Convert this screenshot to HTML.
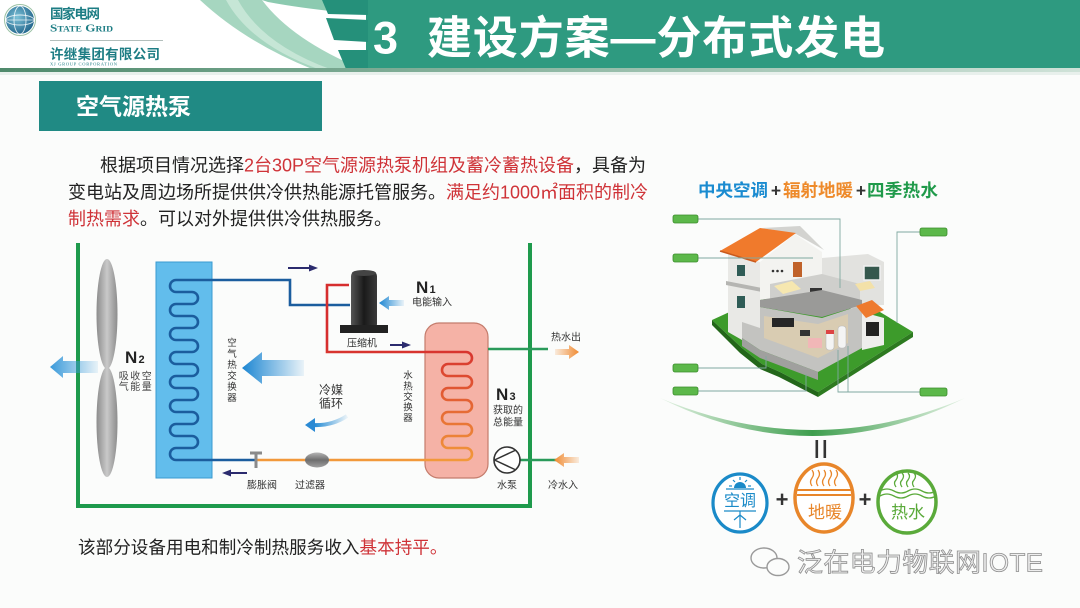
<!DOCTYPE html>
<html><head><meta charset="utf-8">
<style>
html,body{margin:0;padding:0;width:1080px;height:608px;overflow:hidden;background:#fbfcfb;}
svg{display:block;}
text{font-family:"Liberation Sans","Noto Sans CJK SC",sans-serif;}
</style></head><body>
<svg width="1080" height="608" viewBox="0 0 1080 608" xmlns="http://www.w3.org/2000/svg">
<defs>
  <linearGradient id="gBlueL" x1="0" y1="0" x2="1" y2="0">
    <stop offset="0" stop-color="#1c86d2" stop-opacity="1"/>
    <stop offset="1" stop-color="#1c86d2" stop-opacity="0.08"/>
  </linearGradient>
  <linearGradient id="gBlueL2" x1="0" y1="0" x2="1" y2="0">
    <stop offset="0" stop-color="#3a9ada" stop-opacity="1"/>
    <stop offset="1" stop-color="#3a9ada" stop-opacity="0.1"/>
  </linearGradient>
  <linearGradient id="gOrgR" x1="0" y1="0" x2="1" y2="0">
    <stop offset="0" stop-color="#f08a30" stop-opacity="0.15"/>
    <stop offset="1" stop-color="#f08a30" stop-opacity="1"/>
  </linearGradient>
  <linearGradient id="gOrgL" x1="0" y1="0" x2="1" y2="0">
    <stop offset="0" stop-color="#f08a30" stop-opacity="1"/>
    <stop offset="1" stop-color="#f08a30" stop-opacity="0.15"/>
  </linearGradient>
  <linearGradient id="gCoil" gradientUnits="userSpaceOnUse" x1="0" y1="345" x2="0" y2="462">
    <stop offset="0" stop-color="#d62e2e"/>
    <stop offset="1" stop-color="#f29a3a"/>
  </linearGradient>
  <linearGradient id="gComp" x1="0" y1="0" x2="1" y2="0">
    <stop offset="0" stop-color="#555"/>
    <stop offset="0.5" stop-color="#1a1a1a"/>
    <stop offset="1" stop-color="#3a3a3a"/>
  </linearGradient>
  <linearGradient id="gFan" x1="0" y1="0" x2="1" y2="0">
    <stop offset="0" stop-color="#8c8c8c"/>
    <stop offset="0.5" stop-color="#c9c9c9"/>
    <stop offset="1" stop-color="#8c8c8c"/>
  </linearGradient>
  <linearGradient id="gArc" x1="0" y1="0" x2="1" y2="0">
    <stop offset="0" stop-color="#e4f2e4"/>
    <stop offset="0.5" stop-color="#3e9e4e"/>
    <stop offset="1" stop-color="#e4f2e4"/>
  </linearGradient>
  <linearGradient id="gHdrLine" x1="0" y1="0" x2="1" y2="0">
    <stop offset="0" stop-color="#4f8a6c"/>
    <stop offset="0.5" stop-color="#8fb8a4"/>
    <stop offset="1" stop-color="#cfe2d8"/>
  </linearGradient>
  <linearGradient id="gFilter" x1="0" y1="0" x2="0" y2="1">
    <stop offset="0" stop-color="#b5b5b5"/>
    <stop offset="0.5" stop-color="#6e6e6e"/>
    <stop offset="1" stop-color="#a0a0a0"/>
  </linearGradient>
  <radialGradient id="gGlobe" cx="0.4" cy="0.4" r="0.7">
    <stop offset="0" stop-color="#7cc2d8"/>
    <stop offset="1" stop-color="#1b5e86"/>
  </radialGradient>
</defs>

<!-- ===== HEADER ===== -->
<rect x="0" y="0" width="1080" height="70" fill="#ffffff"/>
<path d="M200 0 L262 0 Q292 40 362 69 L312 69 Q245 42 200 0 Z" fill="#a6d6c0"/>
<path d="M262 0 L330 0 L340 12 Q300 8 268 2 Z" fill="#8ccab0"/>
<path d="M238 0 Q262 44 330 69 L318 69 Q250 44 226 0 Z" fill="#c6e6d6"/>
<rect x="366" y="0" width="714" height="69" fill="#2e9a80"/>
<polygon points="322,0 368,0 368,15 328,14" fill="#25907a"/>
<polygon points="326,18 368,20 368,42 334,40" fill="#25907a"/>
<polygon points="338,50 368,50 368,69 346,69" fill="#25907a"/>
<rect x="0" y="68" width="1080" height="4" fill="url(#gHdrLine)"/>
<rect x="0" y="72" width="1080" height="3" fill="#e8f0ec"/>

<!-- logo -->
<circle cx="20" cy="20" r="14" fill="url(#gGlobe)"/>
<ellipse cx="20" cy="20" rx="14" ry="5" fill="none" stroke="#ffffff" stroke-width="0.9" opacity="0.8"/>
<ellipse cx="20" cy="20" rx="6" ry="14" fill="none" stroke="#ffffff" stroke-width="0.9" opacity="0.8"/>
<line x1="6" y1="20" x2="34" y2="20" stroke="#fff" stroke-width="0.8" opacity="0.8"/>
<circle cx="20" cy="20" r="15.5" fill="none" stroke="#5a9a6a" stroke-width="1" opacity="0.6"/>
<text x="50" y="18.5" font-size="13.5" font-weight="bold" fill="#1d7d84" textLength="50">国家电网</text>
<text x="50" y="31.5" font-size="11" font-weight="bold" fill="#1d7d84" style="font-family:'Liberation Serif',serif;font-variant:small-caps" textLength="63" lengthAdjust="spacingAndGlyphs">State Grid</text>
<line x1="50" y1="40.5" x2="163" y2="40.5" stroke="#9aaaa6" stroke-width="0.8"/>
<text x="50" y="59" font-size="13.5" font-weight="bold" fill="#1d7d84" textLength="110">许继集团有限公司</text>
<text x="50" y="65.5" font-size="4.5" fill="#1d7d84" style="font-family:'Liberation Serif',serif" textLength="67">XJ GROUP CORPORATION</text>

<!-- title -->
<text x="373" y="53.5" font-size="45" font-weight="bold" fill="#ffffff">3</text>
<text x="427" y="53.5" font-size="45" font-weight="bold" fill="#ffffff" textLength="458">建设方案—分布式发电</text>

<!-- subtitle box -->
<rect x="39" y="81" width="283" height="50" fill="#208a84"/>
<text x="76" y="114.5" font-size="23" font-weight="bold" fill="#ffffff">空气源热泵</text>

<!-- paragraph -->
<text x="100" y="171.6" font-size="18" fill="#222">根据项目情况选择<tspan fill="#cf3338">2台30P空气源源热泵机组及蓄冷蓄热设备</tspan>，具备为</text>
<text x="68" y="198.6" font-size="18" fill="#222">变电站及周边场所提供供冷供热能源托管服务。<tspan fill="#cf3338">满足约1000㎡面积的制冷</tspan></text>
<text x="68" y="225.2" font-size="18" fill="#222"><tspan fill="#cf3338">制热需求</tspan>。可以对外提供供冷供热服务。</text>

<!-- ===== DIAGRAM ===== -->
<path d="M78 243 V506 H530 V243" fill="none" stroke="#1e9a4c" stroke-width="4"/>

<!-- fan -->
<ellipse cx="107" cy="314" rx="10.5" ry="55" fill="url(#gFan)"/>
<ellipse cx="107" cy="422" rx="10.5" ry="55" fill="url(#gFan)"/>

<!-- outside left arrow -->
<polygon points="50,367 63,356 63,361 98,361 98,373 63,373 63,378" fill="url(#gBlueL2)"/>

<!-- N2 -->
<text x="125" y="363" font-size="17" font-weight="bold" fill="#222">N</text>
<text x="138.5" y="363" font-size="11" font-weight="bold" fill="#222">2</text>
<text x="136" y="379.5" font-size="10" fill="#444" text-anchor="middle" letter-spacing="1.5">吸收空</text>
<text x="136" y="390" font-size="10" fill="#444" text-anchor="middle" letter-spacing="1.5">气能量</text>

<!-- air heat exchanger -->
<rect x="156" y="262" width="56" height="216" fill="#62bdec" stroke="#3a9ad0" stroke-width="1"/>
<path d="M350 305 H290 V280 H176 A6 6 0 0 0 176 292 H192 A6 6 0 0 1 192 304 H176 A6 6 0 0 0 176 316 H192 A6 6 0 0 1 192 328 H176 A6 6 0 0 0 176 340 H192 A6 6 0 0 1 192 352 H176 A6 6 0 0 0 176 364 H192 A6 6 0 0 1 192 376 H176 A6 6 0 0 0 176 388 H192 A6 6 0 0 1 192 400 H176 A6 6 0 0 0 176 412 H192 A6 6 0 0 1 192 424 H176 A6 6 0 0 0 176 436 H192 A6 6 0 0 1 192 448 H176 A6 6 0 0 0 176 460 H256" fill="none" stroke="#1b5d9e" stroke-width="2.6"/>

<g font-size="9.5" fill="#333" text-anchor="middle">
<text x="232" y="346">空</text>
<text x="232" y="357">气</text>
<text x="232" y="368">热</text>
<text x="232" y="379">交</text>
<text x="232" y="390">换</text>
<text x="232" y="401">器</text>
</g>

<!-- big blue arrow -->
<polygon points="242,368 262,352 262,360 304,360 304,376 262,376 262,384" fill="url(#gBlueL)"/>

<!-- small navy arrows -->
<line x1="288" y1="268" x2="311" y2="268" stroke="#2b2b6e" stroke-width="2"/>
<polygon points="318,268 309,264.5 309,271.5" fill="#2b2b6e"/>
<line x1="390" y1="345" x2="404" y2="345" stroke="#2b2b6e" stroke-width="2"/>
<polygon points="411,345 402,341.5 402,348.5" fill="#2b2b6e"/>
<line x1="247" y1="473" x2="230" y2="473" stroke="#2b2b6e" stroke-width="2"/>
<polygon points="222,473 231,469.5 231,476.5" fill="#2b2b6e"/>

<!-- compressor -->
<rect x="351" y="271" width="26" height="58" rx="5" fill="url(#gComp)"/>
<ellipse cx="364" cy="273" rx="12" ry="3" fill="#444"/>
<rect x="340" y="325" width="48" height="8" fill="#222"/>
<text x="362" y="346.5" font-size="10" fill="#333" text-anchor="middle">压缩机</text>

<!-- N1 -->
<text x="416" y="293" font-size="17" font-weight="bold" fill="#222">N</text>
<text x="429.5" y="293" font-size="11" font-weight="bold" fill="#222">1</text>
<text x="432" y="305.5" font-size="10" fill="#333" text-anchor="middle">电能输入</text>
<polygon points="379,303 389,296 389,300 404,300 404,306 389,306 389,310" fill="url(#gBlueL)"/>

<!-- water tank -->
<rect x="425" y="323" width="63" height="155" rx="14" fill="#f5b2a6" stroke="#c47c6c" stroke-width="1.2"/>
<path d="M349 285 H327 V352 H466 A6 6 0 0 1 466 364 H448 A6 6 0 0 0 448 376 H466 A6 6 0 0 1 466 388 H448 A6 6 0 0 0 448 400 H466 A6 6 0 0 1 466 412 H448 A6 6 0 0 0 448 424 H466 A6 6 0 0 1 466 436 H448 A6 6 0 0 0 448 448 H466 A6 6 0 0 1 466 460 H256" fill="none" stroke="url(#gCoil)" stroke-width="2.6"/>

<g font-size="9.5" fill="#333" text-anchor="middle">
<text x="408" y="378.5">水</text>
<text x="408" y="389.5">热</text>
<text x="408" y="400">交</text>
<text x="408" y="410.5">换</text>
<text x="408" y="421">器</text>
</g>

<!-- expansion valve and filter -->
<line x1="256" y1="452" x2="256" y2="468" stroke="#8a8a8a" stroke-width="3"/>
<line x1="250" y1="453" x2="262" y2="453" stroke="#8a8a8a" stroke-width="3"/>
<ellipse cx="317" cy="460" rx="12" ry="7.5" fill="url(#gFilter)"/>
<text x="262" y="488.5" font-size="10" fill="#333" text-anchor="middle">膨胀阀</text>
<text x="310" y="488.5" font-size="10" fill="#333" text-anchor="middle">过滤器</text>

<!-- cold media -->
<text x="331" y="394" font-size="12" fill="#333" text-anchor="middle">冷媒</text>
<text x="331" y="407.5" font-size="12" fill="#333" text-anchor="middle">循环</text>
<path d="M347 416 Q332 426 313 425" fill="none" stroke="url(#gBlueL)" stroke-width="4"/>
<polygon points="305,425 315,418 315,432" fill="#2a8ad4"/>

<!-- hot / cold water pipes -->
<line x1="488" y1="349" x2="548" y2="349" stroke="#2a9a5a" stroke-width="2.5"/>
<line x1="520" y1="460" x2="556" y2="460" stroke="#2a9a5a" stroke-width="2.5"/>
<polygon points="579,352 569,345 569,349 555,349 555,355 569,355 569,359" fill="url(#gOrgR)"/>
<polygon points="554,460 564,453 564,457 579,457 579,463 564,463 564,467" fill="url(#gOrgL)"/>
<text x="566" y="340.5" font-size="10" fill="#333" text-anchor="middle">热水出</text>
<text x="563" y="488.5" font-size="10" fill="#333" text-anchor="middle">冷水入</text>

<!-- pump -->
<circle cx="507" cy="460" r="13" fill="#ffffff" stroke="#333" stroke-width="1.6"/>
<path d="M494.5 460 L516 450 M494.5 460 L516 470" stroke="#333" stroke-width="1.5" fill="none"/>
<text x="507" y="488.5" font-size="10" fill="#333" text-anchor="middle">水泵</text>

<!-- N3 -->
<text x="496" y="400" font-size="17" font-weight="bold" fill="#222">N</text>
<text x="509.5" y="400" font-size="11" font-weight="bold" fill="#222">3</text>
<text x="508" y="413.5" font-size="10" fill="#333" text-anchor="middle">获取的</text>
<text x="508" y="425.5" font-size="10" fill="#333" text-anchor="middle">总能量</text>

<!-- bottom text -->
<text x="78" y="553.5" font-size="17.6" fill="#222">该部分设备用电和制冷制热服务收入<tspan fill="#cf3338">基本持平。</tspan></text>

<!-- ===== RIGHT ILLUSTRATION ===== -->
<text x="698" y="196.5" font-size="17.5" font-weight="bold" fill="#1a8bd0" textLength="70">中央空调</text>
<text x="776" y="196.5" font-size="17.5" font-weight="bold" fill="#333" text-anchor="middle">+</text>
<text x="783" y="196.5" font-size="17.5" font-weight="bold" fill="#ee8a2a" textLength="70">辐射地暖</text>
<text x="861" y="196.5" font-size="17.5" font-weight="bold" fill="#333" text-anchor="middle">+</text>
<text x="867" y="196.5" font-size="17.5" font-weight="bold" fill="#1f9a4a" textLength="71">四季热水</text>

<!-- house -->
<polygon points="712,320 760,298 880,312 913,332 818,392 780,372 762,364 742,348" fill="#3d9b2b"/>
<polygon points="712,320 742,348 762,364 780,372 818,392 818,397 779,377 760,369 740,353 712,325" fill="#23661a"/>
<polygon points="818,392 913,332 913,337 818,397" fill="#2d7a20"/>

<polygon points="742,305 760,307 822,318 862,305 862,348 818,372 760,350 742,338" fill="#c3c3c0"/>
<polygon points="764,316 818,324 848,314 848,343 818,358 764,338" fill="#d9ccb2"/>
<rect x="772" y="318" width="22" height="9" fill="#262626"/>
<rect x="800" y="330" width="10" height="6" fill="#333"/>
<polygon points="742,338 760,350 818,372 818,380 760,358 742,346" fill="#a0a09e"/>

<polygon points="728,254 760,262 760,328 742,322 742,340 728,332" fill="#e9e9e6"/>
<polygon points="726,281 762,288 762,292 726,285" fill="#b5b5b2"/>
<rect x="737" y="265" width="8" height="11" fill="#2f5c56"/>
<rect x="737" y="296" width="8" height="12" fill="#2f5c56"/>

<polygon points="822,258 868,254 884,262 884,305 822,308" fill="#e2e2df"/>
<rect x="864" y="266" width="16" height="14" fill="#35584d" stroke="#f0f0f0" stroke-width="1.5"/>

<polygon points="760,262 795,234 822,252 822,290 760,300" fill="#f3f3f0"/>
<rect x="793" y="262" width="9" height="15" fill="#c0622a"/>
<circle cx="773" cy="271" r="1.3" fill="#333"/>
<circle cx="777.5" cy="271" r="1.3" fill="#333"/>
<circle cx="782" cy="271" r="1.3" fill="#333"/>

<polygon points="770,284 822,274 860,284 860,300 822,310 770,302" fill="#cfcfcc"/>
<polygon points="774,286 792,281 801,289 783,294" fill="#f6e7b0"/>
<polygon points="855,284 870,281 875,288 860,291" fill="#f3e1a8"/>
<rect x="810" y="288" width="12" height="6" fill="#333"/>
<polygon points="760,300 822,290 862,300 862,305 822,317 760,307" fill="#9a9a98"/>

<polygon points="762,228 800,226 824,250 796,234" fill="#d3d3d0"/>
<polygon points="720,251 760,228 796,233 756,262" fill="#f07a2c"/>
<line x1="720" y1="251" x2="756" y2="262" stroke="#c95a1c" stroke-width="1.5"/>

<polygon points="862,312 884,318 884,345 862,350" fill="#eeeeec"/>
<polygon points="856,306 872,300 884,310 866,318" fill="#ee7a2e"/>
<rect x="866" y="322" width="13" height="14" fill="#222"/>
<rect x="826" y="330" width="8" height="20" rx="3" fill="#f4f4f4" stroke="#bbb" stroke-width="0.6"/>
<rect x="838" y="326" width="8" height="22" rx="3" fill="#f4f4f4" stroke="#bbb" stroke-width="0.6"/>
<rect x="826" y="330" width="8" height="4" fill="#d44"/>
<rect x="808" y="338" width="14" height="10" fill="#f1b7b7"/>

<!-- callout lines -->
<g fill="none" stroke="#7fa8a0" stroke-width="0.9">
<path d="M698 219 H840 V288"/>
<path d="M698 258 H813"/>
<path d="M698 368 H766 V356"/>
<path d="M698 391 H806 V374"/>
<path d="M920 232 H897 V323"/>
<path d="M920 392 H848 V346"/>
<path d="M848 392 H838 V350"/>
</g>
<g fill="#5cb84a" stroke="#3b8c2c" stroke-width="0.8">
<rect x="673" y="215" width="25" height="8" rx="2"/>
<rect x="673" y="254" width="25" height="8" rx="2"/>
<rect x="673" y="364" width="25" height="8" rx="2"/>
<rect x="673" y="387" width="25" height="8" rx="2"/>
<rect x="920" y="228" width="27" height="8" rx="2"/>
<rect x="920" y="388" width="27" height="8" rx="2"/>
</g>

<!-- green arc -->
<path d="M660 398 Q812 462 965 398 Q812 474 660 398 Z" fill="url(#gArc)"/>

<!-- equals -->
<rect x="815.5" y="440" width="2.6" height="18" fill="#333"/>
<rect x="823.5" y="440" width="2.6" height="18" fill="#333"/>

<!-- circle 1: air con -->
<ellipse cx="740" cy="503" rx="27" ry="29" fill="#fff" stroke="#1a8ac8" stroke-width="3.2"/>
<path d="M734 488 A6 6 0 0 1 746 488 Z" fill="#1a8ac8"/>
<g stroke="#1a8ac8" stroke-width="1.2">
<line x1="740" y1="477" x2="740" y2="480"/>
<line x1="733" y1="480" x2="735" y2="482"/>
<line x1="747" y1="480" x2="745" y2="482"/>
<line x1="729" y1="486" x2="732" y2="486"/>
<line x1="748" y1="486" x2="751" y2="486"/>
<line x1="726" y1="489" x2="754" y2="489"/>
<line x1="724" y1="511" x2="756" y2="511"/>
<line x1="740" y1="511" x2="740" y2="528"/>
<line x1="740" y1="515" x2="734" y2="520"/>
<line x1="740" y1="515" x2="746" y2="520"/>
</g>
<text x="740" y="506" font-size="16" fill="#1a8ac8" text-anchor="middle">空调</text>

<text x="782" y="507" font-size="22" font-weight="bold" fill="#333" text-anchor="middle">+</text>

<!-- circle 2: floor heating -->
<ellipse cx="824" cy="498" rx="29" ry="34" fill="#fff" stroke="#e8862a" stroke-width="3.5"/>
<g fill="none" stroke="#e8862a" stroke-width="1.3">
<path d="M812 486 q-3 -4 0 -8 q3 -4 0 -8"/>
<path d="M818 486 q-3 -4 0 -8 q3 -4 0 -8"/>
<path d="M824 486 q-3 -4 0 -8 q3 -4 0 -8"/>
<path d="M830 486 q-3 -4 0 -8 q3 -4 0 -8"/>
<path d="M836 486 q-3 -4 0 -8 q3 -4 0 -8"/>
</g>
<rect x="797" y="489" width="54" height="2" fill="#e8862a"/>
<rect x="797" y="494" width="54" height="2" fill="#e8862a"/>
<text x="825" y="518" font-size="17" fill="#e8862a" text-anchor="middle">地暖</text>

<text x="865" y="507" font-size="22" font-weight="bold" fill="#333" text-anchor="middle">+</text>

<!-- circle 3: hot water -->
<ellipse cx="907" cy="502" rx="29" ry="31" fill="#fff" stroke="#5aaa3a" stroke-width="3.5"/>
<g fill="none" stroke="#5aaa3a" stroke-width="1.3">
<path d="M896 487 q-3 -4 0 -7 q3 -4 0 -7"/>
<path d="M902 487 q-3 -4 0 -7 q3 -4 0 -7"/>
<path d="M908 487 q-3 -4 0 -7 q3 -4 0 -7"/>
<path d="M914 487 q-3 -4 0 -7 q3 -4 0 -7"/>
<path d="M880 491 q7 -4 14 0 t14 0 t14 0 t14 0"/>
<path d="M880 496 q7 -4 14 0 t14 0 t14 0 t14 0"/>
</g>
<text x="908" y="518" font-size="17" fill="#5aaa3a" text-anchor="middle">热水</text>

<!-- watermark -->
<g fill="none" stroke="#9a9a9a" stroke-width="1.4">
<ellipse cx="764" cy="558" rx="13" ry="10"/>
<ellipse cx="778" cy="567" rx="11" ry="8.5" fill="#fbfcfb"/>
</g>
<text x="797" y="571.5" font-size="26" fill="#eeeeee" stroke="#8e8e8e" stroke-width="0.8" textLength="246">泛在电力物联网IOTE</text>
</svg>
</body></html>
